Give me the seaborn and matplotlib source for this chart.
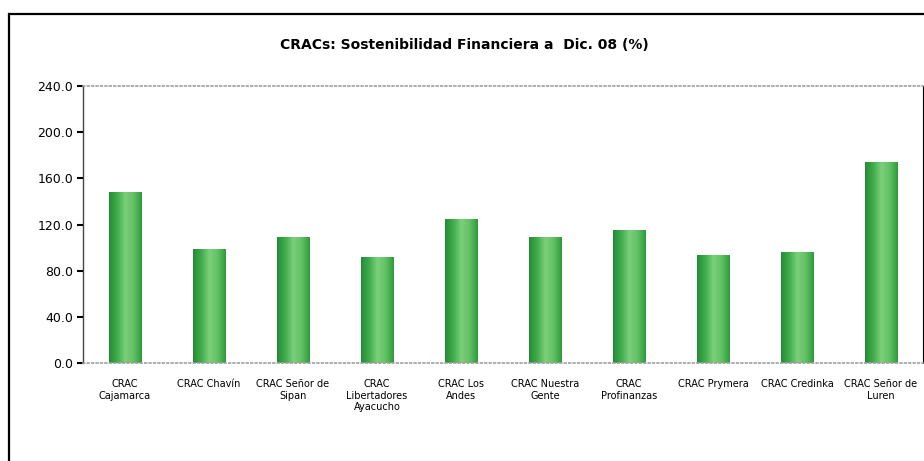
import numpy as np
import pandas as pd
import seaborn as sns
import matplotlib.pyplot as plt
from matplotlib.patches import Rectangle
from matplotlib.colors import LinearSegmentedColormap

# datos del grafico
entidades = ['CRAC\nCajamarca', 'CRAC Chavín', 'CRAC Señor de\nSipan',
             'CRAC\nLibertadores\nAyacucho', 'CRAC Los\nAndes', 'CRAC Nuestra\nGente',
             'CRAC\nProfinanzas', 'CRAC Prymera', 'CRAC Credinka',
             'CRAC Señor de\nLuren']
sostenibilidad = [148, 99, 109, 92, 125, 109, 115, 94, 96, 174]
y_ticks = [0, 40, 80, 120, 160, 200, 240]

df = pd.DataFrame({'entidad': entidades, 'valor': sostenibilidad})

sns.set_style('white')
plt.rcParams['font.family'] = ['DejaVu Sans']
plt.rcParams['text.color'] = 'black'
plt.rcParams['xtick.color'] = 'black'
plt.rcParams['ytick.color'] = 'black'

fig = plt.figure(figsize=(9.24, 4.61), dpi=100)
ax = fig.add_axes([83 / 924, 1 - 363 / 461, 840 / 924, 277 / 461])

sns.barplot(data=df, x='entidad', y='valor', color='#4cb24c', width=0.39,
            saturation=1, ax=ax)

# degradado tipo cilindro
verde = LinearSegmentedColormap.from_list(
    'verde', ['#238a36', '#3fae4c', '#7ccf7c', '#62c064', '#2c9a3c'])
grad = np.linspace(0, 1, 256).reshape(1, -1)
for p in ax.patches:
    x0, w, h = p.get_x(), p.get_width(), p.get_height()
    im = ax.imshow(grad, cmap=verde, aspect='auto', extent=[x0, x0 + w, 0, h],
                   zorder=p.get_zorder() + 0.1)
    im.set_clip_path(p)
ax.set_xlim(-0.5, len(entidades) - 0.5)
ax.set_ylim(0, 240)

ax.set_yticks(y_ticks)
ax.set_yticklabels([f'{v:.1f}' for v in y_ticks], fontsize=9)
ax.tick_params(axis='y', left=True, length=4, width=1.5, color='black', pad=3)
ax.tick_params(axis='x', bottom=False, labelsize=7, pad=8)
ax.set_xlabel('')
ax.set_ylabel('')

ax.spines['left'].set_color('#444444')
ax.spines['left'].set_linewidth(1)
ax.spines['right'].set_color('black')
ax.spines['right'].set_linewidth(0.8)
for s in ['top', 'bottom']:
    ax.spines[s].set_color('#a0a0a0')
    ax.spines[s].set_linestyle(':')
    ax.spines[s].set_linewidth(1.2)

fig.text(464 / 924, 1 - 45 / 461, 'CRACs: Sostenibilidad Financiera a  Dic. 08 (%)',
         ha='center', va='center', fontsize=10, fontweight='bold')

# marco exterior
fig.patches.append(Rectangle((9 / 924, -0.1), 1.2, 1 - 14 / 461 + 0.1,
                             transform=fig.transFigure, fill=False,
                             edgecolor='black', linewidth=1.6))

fig.savefig('out.png', dpi=100)
